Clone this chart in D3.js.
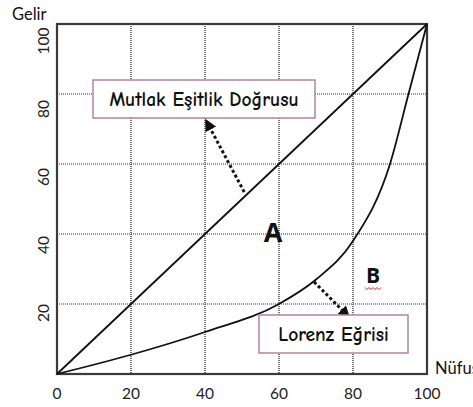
<!DOCTYPE html>
<html>
<head>
<meta charset="utf-8">
<script src="https://cdn.jsdelivr.net/npm/d3@7"></script>
<style>
html,body{margin:0;padding:0;background:#fff;}
svg{display:block;}
</style>
</head>
<body>
<svg id="c" width="473" height="407"></svg>
<script>
// ---- data ----
const xTicks = [0, 20, 40, 60, 80, 100];
const yTicks = [20, 40, 60, 80, 100];
const gridValues = [20, 40, 60, 80];
const equalityX = [0, 100];
const equalityY = [0, 100];
const lorenzX = [0, 20, 40, 60, 70, 80, 90, 95, 100];
const lorenzY = [0, 5.5, 12, 20, 27, 38, 60, 80, 100];
const xTitle = "Nüfus";
const yTitle = "Gelir";
const labelEquality = "Mutlak Eşitlik Doğrusu";
const labelLorenz = "Lorenz Eğrisi";
const areaA = "A";
const areaB = "B";

const svg = d3.select("#c");
const x = d3.scaleLinear().domain([0, 100]).range([57, 427]);
const y = d3.scaleLinear().domain([0, 100]).range([374, 24]);
// y tick labels in the original sit slightly below gridlines
const yLab = d3.scaleLinear().domain([0, 100]).range([381, 41]);

const font = "Lato, 'Open Sans', sans-serif";
const handFont = "'Comic Sans MS', 'Comic Neue', Lato, sans-serif";

// grid
const g = svg.append("g");
g.selectAll("line.v").data(gridValues).join("line")
  .attr("x1", d => x(d)).attr("x2", d => x(d))
  .attr("y1", y(100)).attr("y2", y(0))
  .attr("stroke", "#444").attr("stroke-width", 1.5).attr("stroke-dasharray", "1,1");
g.selectAll("line.h").data(gridValues).join("line")
  .attr("y1", d => y(d)).attr("y2", d => y(d))
  .attr("x1", x(0)).attr("x2", x(100))
  .attr("stroke", "#777").attr("stroke-width", 1.5).attr("stroke-dasharray", "1,1");

// frame
svg.append("rect").attr("x", x(0)).attr("y", y(100))
  .attr("width", x(100) - x(0)).attr("height", y(0) - y(100))
  .attr("fill", "none").attr("stroke", "#3a3a3a").attr("stroke-width", 2.2);

// lines
const line = d3.line().x(d => x(d[0])).y(d => y(d[1]));
svg.append("path").datum(d3.zip(equalityX, equalityY))
  .attr("d", line).attr("fill", "none").attr("stroke", "#111").attr("stroke-width", 1.8);
svg.append("path").datum(d3.zip(lorenzX, lorenzY))
  .attr("d", line.curve(d3.curveMonotoneX)).attr("fill", "none")
  .attr("stroke", "#111").attr("stroke-width", 1.8);

// tick labels
svg.selectAll("text.xt").data(xTicks).join("text")
  .attr("x", d => x(d)).attr("y", 399)
  .attr("text-anchor", "middle").attr("font-family", font).attr("font-size", 15.5)
  .attr("fill", "#222").text(d => d);
svg.selectAll("text.yt").data(yTicks).join("text")
  .attr("transform", d => `translate(49,${yLab(d)}) rotate(-90)`)
  .attr("text-anchor", "middle").attr("font-family", font).attr("font-size", 15.5)
  .attr("fill", "#222").text(d => d);

// axis titles
svg.append("text").attr("x", 12).attr("y", 20).attr("font-family", font)
  .attr("font-size", 16.5).attr("fill", "#111").text(yTitle);
svg.append("text").attr("x", 435).attr("y", 374).attr("font-family", font)
  .attr("font-size", 16.5).attr("fill", "#111").text(xTitle);

// arrows
const defs = svg.append("defs");
defs.append("marker").attr("id", "ah").attr("viewBox", "0 0 10 10")
  .attr("refX", 9).attr("refY", 5).attr("markerWidth", 4).attr("markerHeight", 4)
  .attr("orient", "auto").attr("markerUnits", "strokeWidth")
  .append("path").attr("d", "M0,0 L10,5 L0,10 Z").attr("fill", "#111");
function arrow(x1, y1, x2, y2) {
  svg.append("line").attr("x1", x1).attr("y1", y1).attr("x2", x2).attr("y2", y2)
    .attr("stroke", "#111").attr("stroke-width", 3).attr("stroke-dasharray", "3,2.5")
    .attr("marker-end", "url(#ah)");
}
arrow(x(50.6), y(52), x(40.2), y(72.6));
arrow(x(69.5), y(26.3), x(79), y(16.2));

// label boxes
function box(x0, y0, w, h, txt, fs) {
  svg.append("rect").attr("x", x0).attr("y", y0).attr("width", w).attr("height", h)
    .attr("fill", "#fff").attr("stroke", "#b5829e").attr("stroke-width", 1.5);
  svg.append("text").attr("x", x0 + w / 2).attr("y", y0 + h / 2 + 6.5)
    .attr("text-anchor", "middle").attr("font-family", handFont)
    .attr("font-size", fs).attr("font-weight", 700).attr("fill", "#111").text(txt);
}
box(93, 80, 222, 38, labelEquality, 19.5);
box(259, 315, 149, 38, labelLorenz, 19.5);

// area labels
svg.append("text").attr("x", 273).attr("y", 242).attr("text-anchor", "middle")
  .attr("font-family", "'Open Sans', sans-serif").attr("font-weight", 700)
  .attr("font-size", 27).attr("fill", "#111").text(areaA);
svg.append("text").attr("x", 373).attr("y", 283).attr("text-anchor", "middle")
  .attr("font-family", "'Open Sans', sans-serif").attr("font-weight", 700)
  .attr("font-size", 21).attr("fill", "#111").text(areaB);
// red wavy underline under B
const wave = [];
for (let i = 0; i <= 8; i++) wave.push([365 + i * 2, 288 + (i % 2 ? 1.5 : -0.5)]);
svg.append("path").attr("d", d3.line()(wave)).attr("fill", "none")
  .attr("stroke", "#e02020").attr("stroke-width", 1);
</script>
</body>
</html>
